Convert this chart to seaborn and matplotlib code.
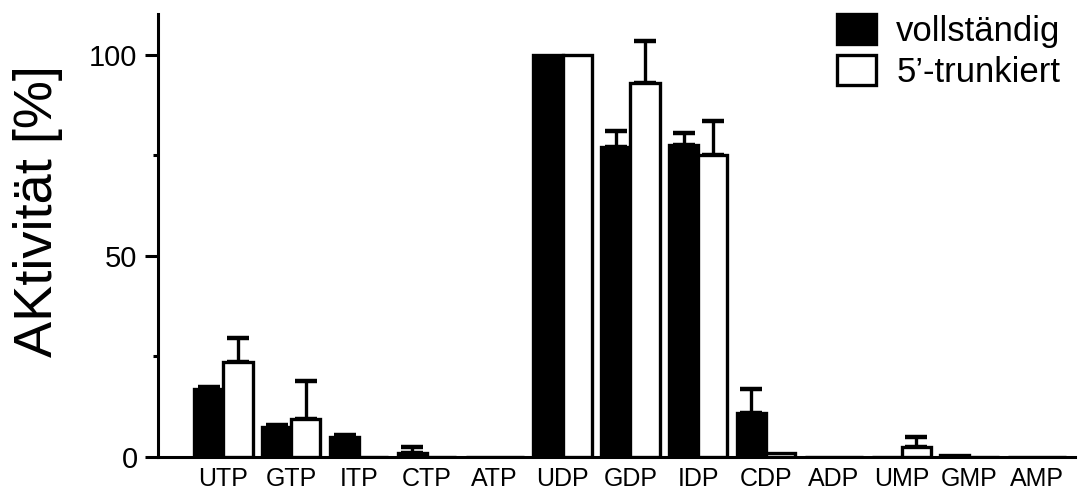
import numpy as np
import pandas as pd
import matplotlib
matplotlib.use("Agg")
import matplotlib.pyplot as plt
import seaborn as sns
from matplotlib.ticker import FixedLocator
from matplotlib.patches import Patch

categories = ["UTP", "GTP", "ITP", "CTP", "ATP", "UDP", "GDP", "IDP",
              "CDP", "ADP", "UMP", "GMP", "AMP"]
series_names = ["vollständig", "5'-trunkiert"]
legend_labels = ["vollständig", "5’-trunkiert"]
full_values = [17.0, 7.5, 5.0, 1.0, 0.0, 100.0, 77.0, 77.5, 11.0, 0.0, 0.0, 0.6, 0.0]
full_errors = [0.5, 0.5, 0.5, 1.5, 0.0, 0.0, 4.0, 3.0, 6.0, 0.0, 0.0, 0.0, 0.0]
trunc_values = [23.5, 9.5, 0.0, 0.0, 0.0, 100.0, 93.0, 75.0, 1.0, 0.0, 2.5, 0.0, 0.0]
trunc_errors = [6.0, 9.5, 0.0, 0.0, 0.0, 0.0, 10.5, 8.5, 0.0, 0.0, 2.5, 0.0, 0.0]
y_ticks = [0, 50, 100]
y_minor_ticks = [25, 75]

sns.set_theme(style="ticks")
plt.rcParams["font.family"] = ["Liberation Sans", "DejaVu Sans"]
plt.rcParams["text.color"] = "black"
plt.rcParams["axes.labelcolor"] = "black"
plt.rcParams["legend.labelcolor"] = "black"

df = pd.DataFrame({
    "Substrat": categories * 2,
    "Form": [series_names[0]] * len(categories) + [series_names[1]] * len(categories),
    "Aktivitaet": full_values + trunc_values,
})

fig = plt.figure(figsize=(10.8, 4.93), dpi=100)
ax = fig.add_axes([0.146, 0.073, 0.849, 0.899])

sns.barplot(data=df, x="Substrat", y="Aktivitaet", hue="Form",
            order=categories, hue_order=series_names,
            palette=["black", "white"], edgecolor="black", linewidth=2.4,
            width=0.86, errorbar=None, ax=ax, legend=False, zorder=3)

# Error bars (upper only), positioned at the bar centres from seaborn's patches
bars = list(ax.patches)
n = len(categories)
for s, errs in enumerate([full_errors, trunc_errors]):
    for i in range(n):
        if errs[i] <= 0:
            continue
        p = bars[s * n + i]
        xc = p.get_x() + p.get_width() / 2
        top = p.get_height()
        ax.errorbar([xc], [top], yerr=[[0], [errs[i]]], fmt="none",
                    ecolor="black", elinewidth=2.4, capsize=8, capthick=3.2,
                    zorder=2)

ax.set_xlim(-0.97, 12.55)
ax.set_ylim(0, 110.2)
ax.yaxis.set_major_locator(FixedLocator(y_ticks))
ax.yaxis.set_minor_locator(FixedLocator(y_minor_ticks))
ax.tick_params(axis="y", which="major", length=9.5, width=2.2, labelsize=21,
               pad=5, color="black", labelcolor="black")
ax.tick_params(axis="y", which="minor", length=3.8, width=2.2, color="black")
ax.tick_params(axis="x", length=0, labelsize=18, pad=7, labelcolor="black")

sns.despine(ax=ax)
for sp in ["left", "bottom"]:
    ax.spines[sp].set_linewidth(2.2)
    ax.spines[sp].set_color("black")

ax.set_xlabel("")
ax.set_ylabel("AKtivität [%]", fontsize=39, color="black",
              va="center", ha="center")
ax.yaxis.set_label_coords(-0.1305, 0.555)

handles = [Patch(facecolor="black", edgecolor="black", linewidth=2.4),
           Patch(facecolor="white", edgecolor="black", linewidth=2.4)]
leg = ax.legend(handles, legend_labels, loc="upper right", frameon=False,
                fontsize=25, handlelength=1.1, handleheight=0.95,
                handletextpad=0.6, labelspacing=0.2, borderaxespad=0,
                bbox_to_anchor=(1.0, 1.03))
for t in leg.get_texts():
    t.set_color("black")

fig.savefig("out.png", dpi=100, facecolor="white")
